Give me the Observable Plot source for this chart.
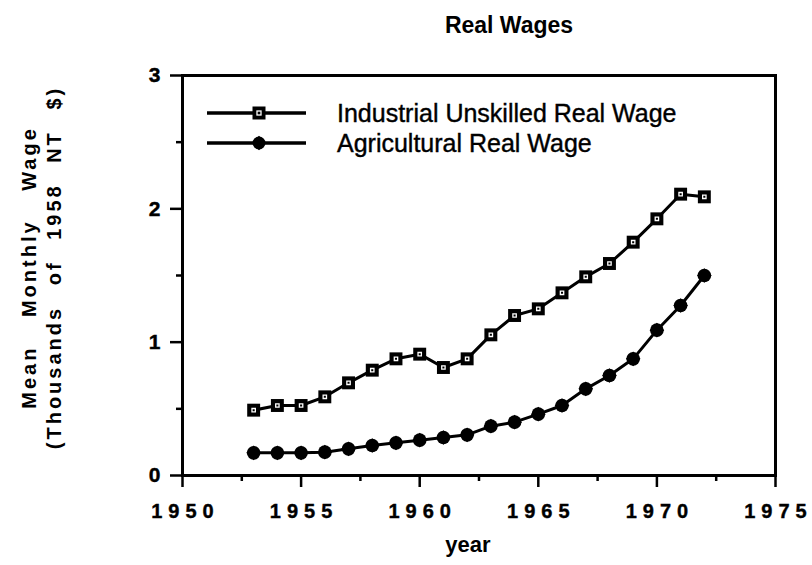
<!DOCTYPE html>
<html>
<head>
<meta charset="utf-8">
<script src="https://cdn.jsdelivr.net/npm/d3@7"></script>
<script src="https://cdn.jsdelivr.net/npm/@observablehq/plot@0.6"></script>
<style>
  body { margin: 0; background: #fff; }
  #wrap { position: relative; width: 812px; height: 565px; background: #fff; font-family: "Liberation Sans", Arial, sans-serif; }
  #legend { position: absolute; left: 0; top: 0; width: 812px; height: 565px; pointer-events: none; }
</style>
</head>
<body>
<div id="wrap"></div>
<script>
// ---- data ----
const years = [1953,1954,1955,1956,1957,1958,1959,1960,1961,1962,1963,1964,1965,1966,1967,1968,1969,1970,1971,1972];
const industrial = [0.49,0.525,0.525,0.59,0.695,0.79,0.875,0.91,0.81,0.875,1.055,1.20,1.25,1.37,1.49,1.59,1.75,1.925,2.11,2.09];
const agricultural = [0.17,0.17,0.17,0.175,0.20,0.225,0.245,0.265,0.285,0.305,0.37,0.40,0.46,0.525,0.65,0.75,0.875,1.09,1.275,1.50];
const seriesNames = ["Industrial Unskilled Real Wage", "Agricultural Real Wage"];
const xTicks = [1950,1955,1960,1965,1970,1975];
const xMinorTicks = [1952.5,1957.5,1962.5,1967.5,1972.5];
const yTicks = [0,1,2,3];
const yMinorTicks = [0.5,1.5,2.5];
const titleText = "Real Wages";
const xTitle = "year";
const yTitleLines = ["Mean Monthly Wage", "(Thousands of 1958 NT $)"];

// ---- layout ----
const W = 812, H = 565;
const mL = 182, mR = 37, mT = 75, mB = 90;

const indData = years.map((year, i) => ({year, value: industrial[i]}));
const agrData = years.map((year, i) => ({year, value: agricultural[i]}));
const fmt = d => String(d);
const none = () => "";

const chart = Plot.plot({
  width: W,
  height: H,
  marginLeft: mL,
  marginRight: mR,
  marginTop: mT,
  marginBottom: mB,
  style: {fontFamily: "'Liberation Sans', Arial, sans-serif", color: "#000", background: "#fff", overflow: "visible"},
  x: {domain: [1950, 1975]},
  y: {domain: [0, 3]},
  marks: [
    Plot.axisX({ticks: xMinorTicks, tickSize: 6, tickFormat: none, label: null, stroke: "#000", strokeWidth: 2.5}),
    Plot.axisX({ticks: xTicks, tickSize: 12, tickPadding: 16, tickFormat: fmt, label: null, stroke: "#000", strokeWidth: 2.5, fontSize: 20, fontWeight: "bold"}),
    Plot.axisY({ticks: yMinorTicks, tickSize: 6, tickFormat: none, label: null, stroke: "#000", strokeWidth: 2.5}),
    Plot.axisY({ticks: yTicks, tickSize: 12, tickPadding: 10, tickFormat: fmt, label: null, stroke: "#000", strokeWidth: 2.5, fontSize: 21, fontWeight: "bold"}),
    Plot.frame({strokeWidth: 3, stroke: "#000"}),
    Plot.line(indData, {x: "year", y: "value", stroke: "#000", strokeWidth: 3}),
    Plot.dot(indData, {x: "year", y: "value", symbol: "square", r: 7.3, fill: "#000", stroke: "none"}),
    Plot.dot(indData, {x: "year", y: "value", symbol: "square", r: 1.9, fill: "#000", stroke: "#fff", strokeWidth: 1.3}),
    Plot.line(agrData, {x: "year", y: "value", stroke: "#000", strokeWidth: 3}),
    Plot.dot(agrData, {x: "year", y: "value", symbol: "circle", r: 6.8, fill: "#000", stroke: "none"}),
    Plot.dot(agrData, {x: "year", y: "value", symbol: "diamond2", r: 6.6, fill: "#000", stroke: "none"}),
    Plot.text([titleText], {text: d => d, frameAnchor: "top", textAnchor: "middle", lineAnchor: "bottom", dx: 30, dy: -43, fontSize: 23, fontWeight: "bold"}),
    Plot.text([xTitle], {text: d => d, frameAnchor: "bottom", textAnchor: "middle", lineAnchor: "bottom", dx: -11, dy: 76, fontSize: 22, fontWeight: "bold"}),
    Plot.text([yTitleLines.join("\n")], {text: d => d, frameAnchor: "left", textAnchor: "middle", rotate: -90, lineAnchor: "middle", dx: -142, dy: -8, fontSize: 20, fontWeight: "bold", lineHeight: 1.25})
  ]
});

const wrap = document.getElementById("wrap");
wrap.appendChild(chart);

// spacing styles as in the original typesetting
d3.select(chart).selectAll('g[aria-label="x-axis tick label"] text')
  .style("letter-spacing", "6px").attr("dx", 3).attr("stroke", "#000").attr("stroke-width", 0.4);
d3.select(chart).selectAll('g[aria-label="y-axis tick label"] text').attr("stroke", "#000").attr("stroke-width", 0.4);
const yTitleEl = d3.select(chart).selectAll('g[aria-label="text"] text')
  .filter(function() { return this.textContent.includes("Monthly"); })
  .style("letter-spacing", "3px");
yTitleEl.selectAll("tspan").each(function(d, i) {
  d3.select(this).style("word-spacing", i === 0 ? "20px" : "12px");
});

// legend (inside the frame, top-left)
const leg = d3.select(wrap).append("svg").attr("id", "legend").attr("width", W).attr("height", H);
const legendRows = [
  {name: seriesNames[0], y: 113, marker: "square"},
  {name: seriesNames[1], y: 143, marker: "diamond"}
];
legendRows.forEach(row => {
  const g = leg.append("g");
  g.append("line").attr("x1", 207).attr("x2", 306).attr("y1", row.y).attr("y2", row.y).attr("stroke", "#000").attr("stroke-width", 3.5);
  if (row.marker === "square") {
    g.append("rect").attr("x", 259 - 6.5).attr("y", row.y - 6.5).attr("width", 13).attr("height", 13).attr("fill", "#000");
    g.append("rect").attr("x", 259 - 2).attr("y", row.y - 2).attr("width", 4).attr("height", 4).attr("fill", "#000").attr("stroke", "#fff").attr("stroke-width", 1.3);
  } else {
    g.append("circle").attr("cx", 259).attr("cy", row.y).attr("r", 6.5).attr("fill", "#000");
    g.append("path").attr("d", d3.symbol(d3.symbolDiamond2, 130)()).attr("transform", `translate(259,${row.y})`).attr("fill", "#000");
  }
  g.append("text").attr("x", 337).attr("y", row.y + 9).attr("font-size", 25)
    .attr("font-family", "'Liberation Sans', Arial, sans-serif")
    .attr("fill", "#000").attr("stroke", "#000").attr("stroke-width", 0.4)
    .text(row.name);
});
</script>
</body>
</html>
